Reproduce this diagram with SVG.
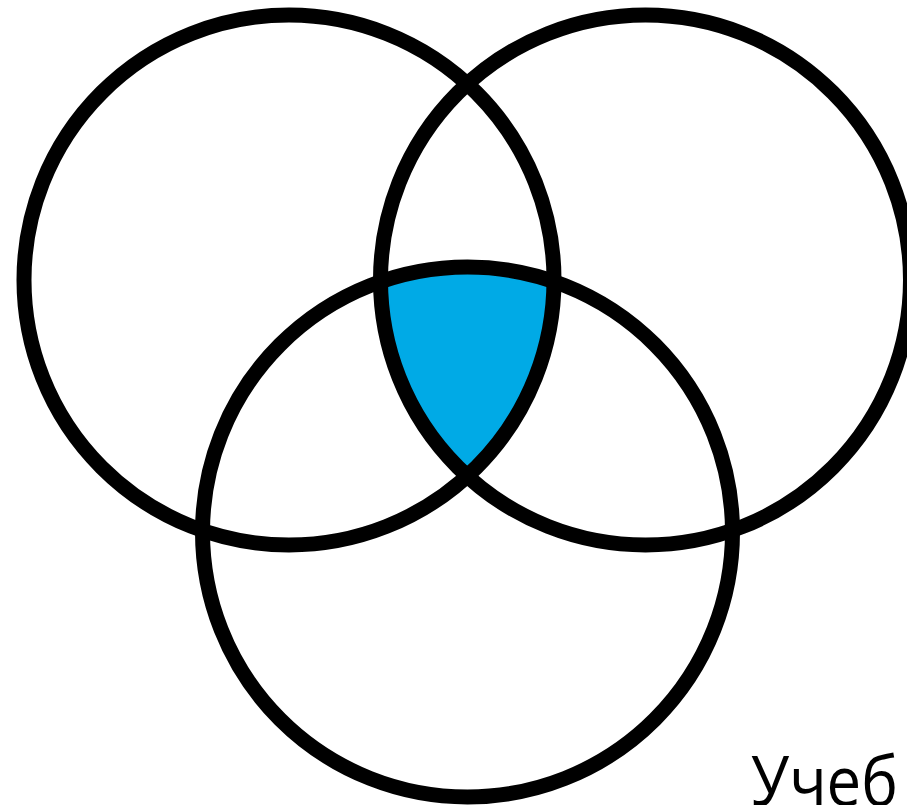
<svg xmlns="http://www.w3.org/2000/svg" width="907" height="805" viewBox="0 0 907 805">
<style>
.c{fill:none;stroke:#000;stroke-width:15}
.t{font-family:"Open Sans","Noto Sans",sans-serif;font-size:70px;fill:#000}
</style>
<rect width="907" height="805" fill="#fff"/>
<g id="intersection">
<path d="M380.5 281.5 A265 265 0 0 1 554 281.5 A265 265 0 0 1 467.25 476.1 A265 265 0 0 1 380.5 281.5 Z" fill="#00AAE6"/>
</g>
<g id="circle-left"><circle class="c" cx="289" cy="280" r="265"/></g>
<g id="circle-right"><circle class="c" cx="645.5" cy="280" r="265"/></g>
<g id="circle-bottom"><circle class="c" cx="467.5" cy="532" r="265"/></g>
<g id="connectors"/>
<text class="t" x="751" y="806" textLength="147" lengthAdjust="spacingAndGlyphs">Учеб</text>
</svg>
